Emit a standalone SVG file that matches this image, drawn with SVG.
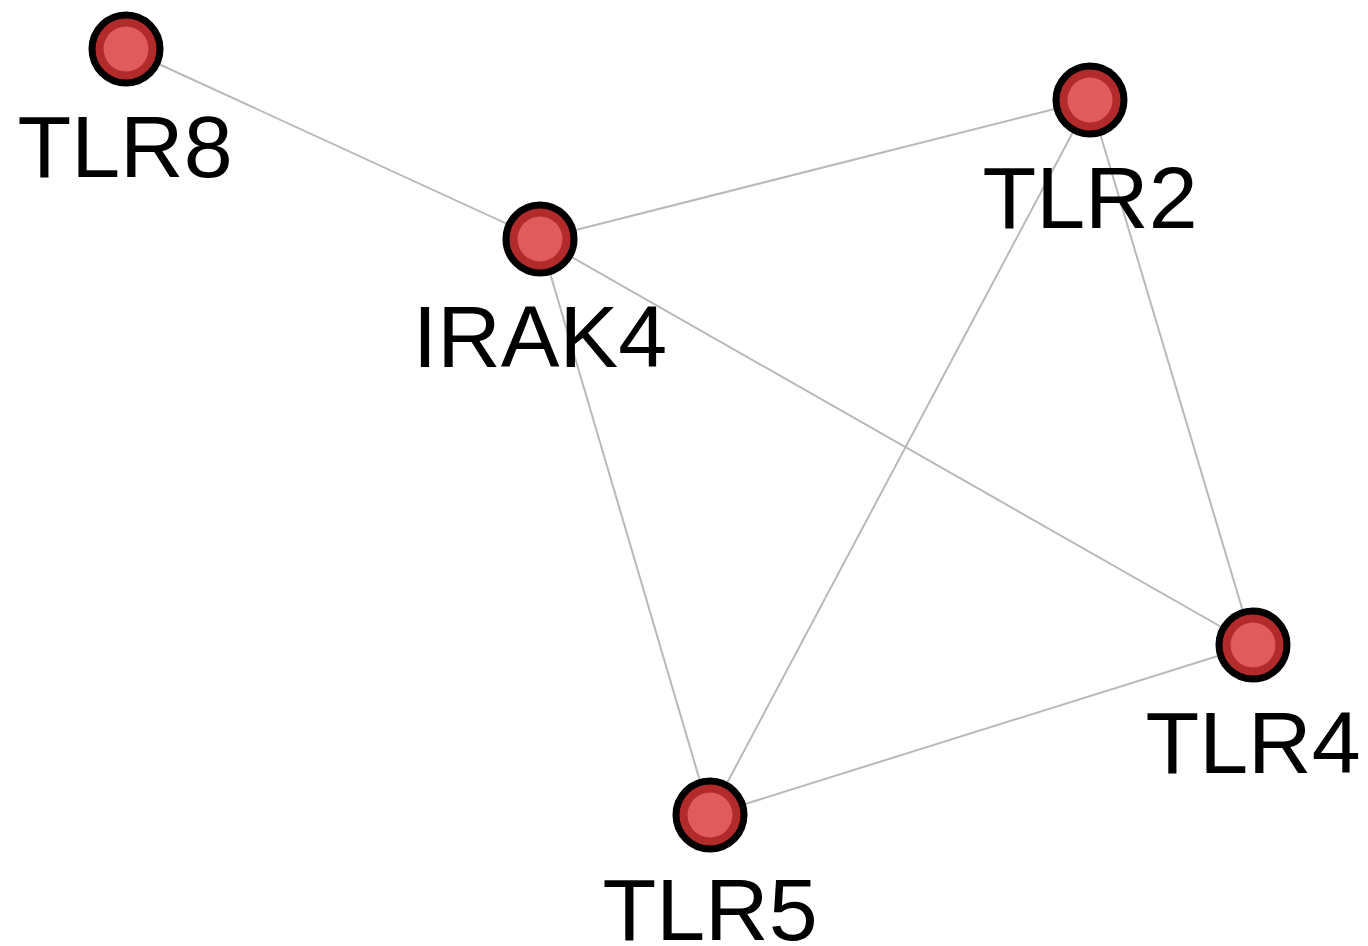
<svg xmlns="http://www.w3.org/2000/svg" width="1368" height="946" viewBox="0 0 1368 946">
<style>
.edge{stroke:#b9b9b9;stroke-width:2;fill:none}
.outer{fill:#b22a2a;stroke:#000;stroke-width:7}
.inner{fill:#e05c5c}
.lbl{font-family:"Liberation Sans",Arial,sans-serif;font-size:88px;fill:#000;text-anchor:middle}
</style>
<rect width="1368" height="946" fill="#fff"/>
<g id="edges">
<line class="edge" x1="126" y1="49" x2="540" y2="239"/>
<line class="edge" x1="540" y1="239" x2="1090" y2="100"/>
<line class="edge" x1="540" y1="239" x2="710" y2="815"/>
<line class="edge" x1="540" y1="239" x2="1253" y2="645"/>
<line class="edge" x1="1090" y1="100" x2="710" y2="815"/>
<line class="edge" x1="1090" y1="100" x2="1253" y2="645"/>
<line class="edge" x1="1253" y1="645" x2="710" y2="815"/>
</g>
<g id="TLR8"><circle class="outer" cx="126" cy="49" r="34"/><circle class="inner" cx="126" cy="49" r="22.5"/><text class="lbl" x="125" y="177">TLR8</text></g>
<g id="TLR2"><circle class="outer" cx="1090" cy="100" r="34"/><circle class="inner" cx="1090" cy="100" r="22.5"/><text class="lbl" x="1090" y="228">TLR2</text></g>
<g id="IRAK4"><circle class="outer" cx="540" cy="239" r="34"/><circle class="inner" cx="540" cy="239" r="22.5"/><text class="lbl" x="540" y="367">IRAK4</text></g>
<g id="TLR4"><circle class="outer" cx="1253" cy="645" r="34"/><circle class="inner" cx="1253" cy="645" r="22.5"/><text class="lbl" x="1253" y="773">TLR4</text></g>
<g id="TLR5"><circle class="outer" cx="710" cy="815" r="34"/><circle class="inner" cx="710" cy="815" r="22.5"/><text class="lbl" x="710" y="940">TLR5</text></g>
</svg>
